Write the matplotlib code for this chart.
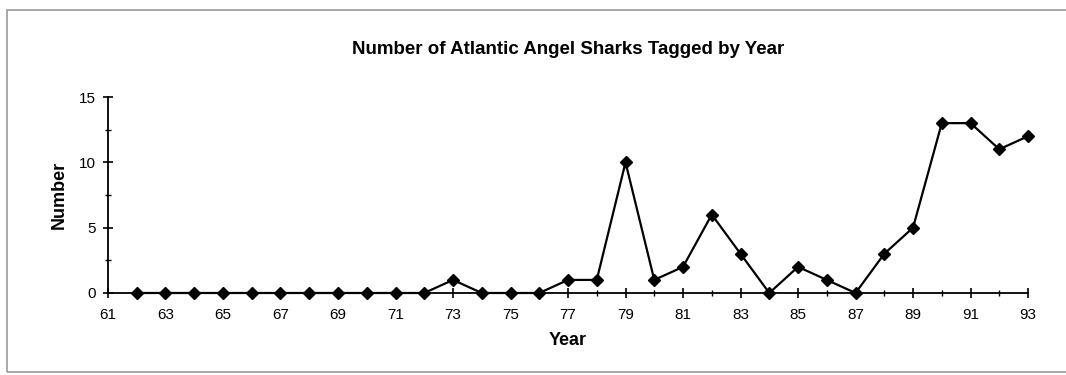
import matplotlib.pyplot as plt
from matplotlib.patches import Rectangle
from matplotlib.ticker import MultipleLocator

plt.rcParams["font.family"] = ["Liberation Sans", "DejaVu Sans"]

years = list(range(62, 94))
counts = [0, 0, 0, 0, 0, 0, 0, 0, 0, 0, 0, 1, 0, 0, 0, 1, 1, 10, 1, 2, 6, 3,
          0, 2, 1, 0, 3, 5, 13, 13, 11, 12]
x_ticks = list(range(61, 94, 2))
y_ticks = [0, 5, 10, 15]

fig = plt.figure(figsize=(10.66, 3.75), dpi=100)
# grey frame round the chart, open on the right like the scan
fig.patches.append(Rectangle((7 / 1066, 3 / 375), 1080 / 1066, 362 / 375,
                             transform=fig.transFigure, fill=False,
                             edgecolor="#9a9a9a", linewidth=1.2))

ax = fig.add_axes([0.1013, 0.2187, 0.8631, 0.5226])
ax.plot(years, counts, color="black", linewidth=1.6, marker="D",
        markersize=6, markerfacecolor="black", clip_on=False)

ax.set_xlim(61, 93)
ax.set_ylim(0, 15)
ax.set_xticks(x_ticks)
ax.xaxis.set_minor_locator(MultipleLocator(1))
ax.set_yticks(y_ticks)
ax.yaxis.set_minor_locator(MultipleLocator(2.5))
for side in ["top", "right"]:
    ax.spines[side].set_visible(False)
for side in ["left", "bottom"]:
    ax.spines[side].set_linewidth(1.3)
ax.tick_params(axis="both", which="major", direction="inout", length=7,
               width=1.2, labelsize=11)
ax.tick_params(axis="x", which="major", pad=7)
ax.tick_params(axis="y", which="major", pad=5)
ax.tick_params(axis="both", which="minor", direction="inout", length=5,
               width=1.0)

ax.set_xlabel("Year", fontsize=13, fontweight="bold")
ax.set_ylabel("Number", fontsize=13, fontweight="bold")
ax.xaxis.set_label_coords(0.5, -0.24)
ax.xaxis.label.set_va("center")
ax.yaxis.set_label_coords(-0.0533, 0.5)
ax.yaxis.label.set_va("center")

fig.text(568 / 1066, 1 - 50 / 375,
         "Number of Atlantic Angel Sharks Tagged by Year",
         ha="center", va="center", fontsize=13.5, fontweight="bold")

fig.savefig("out.png", dpi=100)
